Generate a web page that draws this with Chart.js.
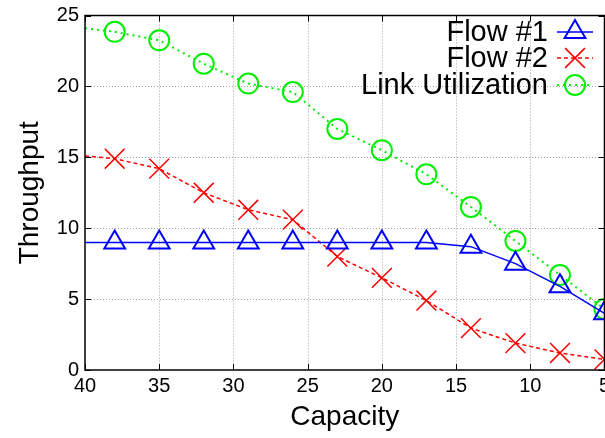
<!DOCTYPE html>
<html>
<head>
<meta charset="utf-8">
<script src="https://cdn.jsdelivr.net/npm/chart.js@4"></script>
<style>
  html, body { margin: 0; padding: 0; background: #fff; overflow: hidden; }
  #wrap { width: 620px; height: 438px; }
</style>
</head>
<body>
<div id="wrap"><canvas id="chart" width="620" height="438"></canvas></div>
<script>
// capacity values (x); first point (40) only carries the line, no marker
const capacity = [40, 38, 35, 32, 29, 26, 23, 20, 17, 14, 11, 8, 5];
const flow1 = [9.0, 9.0, 9.0, 9.0, 9.0, 9.0, 9.0, 9.0, 9.0, 8.7, 7.5, 5.9, 4.0];
const flow2 = [15.1, 14.9, 14.2, 12.5, 11.3, 10.6, 8.0, 6.5, 4.9, 2.95, 1.9, 1.2, 0.75];
const linkUtil = [24.1, 23.85, 23.25, 21.6, 20.2, 19.6, 17.0, 15.5, 13.8, 11.5, 9.1, 6.7, 4.3];

const xTicks = [40, 35, 30, 25, 20, 15, 10, 5];
const yTicks = [0, 5, 10, 15, 20, 25];

const FONT = '"Liberation Sans", Arial, Helvetica, sans-serif';

const toPoints = (vals) => capacity.map((c, i) => ({ x: c, y: vals[i] }));
const radius = (r) => (ctx) => (ctx.dataIndex === 0 ? 0 : r);

// gnuplot-like frame: dotted grid, box border, inward ticks on all sides
const framePlugin = {
  id: 'frame',
  beforeDatasetsDraw(chart) {
    const { ctx, chartArea: a, scales: { x, y } } = chart;
    ctx.save();
    ctx.strokeStyle = '#a0a0a0';
    ctx.lineWidth = 1;
    ctx.setLineDash([1, 2]);
    ctx.beginPath();
    xTicks.forEach(v => {
      const px = Math.round(x.getPixelForValue(v)) + 0.5;
      if (px > a.left + 2 && px < a.right - 2) { ctx.moveTo(px, a.top); ctx.lineTo(px, a.bottom); }
    });
    yTicks.forEach(v => {
      const py = Math.round(y.getPixelForValue(v)) + 0.5;
      if (py > a.top + 2 && py < a.bottom - 2) { ctx.moveTo(a.left, py); ctx.lineTo(a.right, py); }
    });
    ctx.stroke();
    ctx.restore();
  },
  afterDatasetsDraw(chart) {
    const { ctx, chartArea: a, scales: { x, y } } = chart;
    ctx.save();
    ctx.strokeStyle = '#000';
    ctx.lineWidth = 1.5;
    ctx.strokeRect(a.left, a.top, a.right - a.left, a.bottom - a.top);
    const tl = 6;
    ctx.beginPath();
    xTicks.forEach(v => {
      const px = Math.round(x.getPixelForValue(v)) + 0.5;
      ctx.moveTo(px, a.bottom); ctx.lineTo(px, a.bottom - tl);
      ctx.moveTo(px, a.top); ctx.lineTo(px, a.top + tl);
    });
    yTicks.forEach(v => {
      const py = Math.round(y.getPixelForValue(v)) + 0.5;
      ctx.moveTo(a.left, py); ctx.lineTo(a.left + tl, py);
      ctx.moveTo(a.right, py); ctx.lineTo(a.right - tl, py);
    });
    ctx.lineWidth = 1;
    ctx.stroke();
    ctx.restore();
  }
};

// key in the top right corner, text right aligned, sample line + marker on the right
const keyPlugin = {
  id: 'key',
  afterDraw(chart) {
    const { ctx } = chart;
    const textRight = 548, lineL = 557, lineR = 593, rowY = [32, 58, 85];
    ctx.save();
    ctx.font = '29px ' + FONT;
    ctx.textAlign = 'right';
    ctx.textBaseline = 'middle';
    chart.data.datasets.forEach((ds, i) => {
      const yy = rowY[i];
      ctx.fillStyle = '#000';
      ctx.fillText(ds.label, textRight, yy + 1);
      ctx.strokeStyle = ds.borderColor;
      ctx.lineWidth = ds.borderWidth;
      ctx.setLineDash(ds.borderDash || []);
      ctx.beginPath();
      ctx.moveTo(lineL, yy); ctx.lineTo(lineR, yy);
      ctx.stroke();
      ctx.setLineDash([]);
      ctx.strokeStyle = ds.pointBorderColor;
      ctx.fillStyle = 'rgba(0,0,0,0)';
      ctx.lineWidth = ds.pointBorderWidth;
      Chart.helpers.drawPoint(ctx, {
        pointStyle: ds.pointStyle,
        radius: ds.keyRadius,
        borderWidth: ds.pointBorderWidth,
        rotation: 0
      }, (lineL + lineR) / 2, yy);
    });
    ctx.restore();
  }
};

new Chart(document.getElementById('chart'), {
  type: 'line',
  data: {
    datasets: [
      {
        label: 'Flow #1',
        data: toPoints(flow1),
        borderColor: '#0000ff',
        borderWidth: 1.5,
        pointStyle: 'triangle',
        pointRadius: radius(12),
        keyRadius: 12,
        pointBorderWidth: 2,
        pointBorderColor: '#0000ff',
        pointBackgroundColor: 'rgba(0,0,0,0)'
      },
      {
        label: 'Flow #2',
        data: toPoints(flow2),
        borderColor: '#ff0000',
        borderWidth: 1.5,
        borderDash: [4, 3],
        pointStyle: 'crossRot',
        pointRadius: radius(14),
        keyRadius: 14,
        pointBorderWidth: 1.5,
        pointBorderColor: '#ff0000',
        pointBackgroundColor: 'rgba(0,0,0,0)'
      },
      {
        label: 'Link Utilization',
        data: toPoints(linkUtil),
        borderColor: '#00ee00',
        borderWidth: 2,
        borderDash: [2, 4],
        pointStyle: 'circle',
        pointRadius: radius(10),
        keyRadius: 10,
        pointBorderWidth: 2,
        pointBorderColor: '#00ee00',
        pointBackgroundColor: 'rgba(0,0,0,0)'
      }
    ]
  },
  options: {
    responsive: false,
    animation: false,
    layout: { padding: { top: 13, right: 10, left: 0, bottom: 0 } },
    plugins: {
      legend: { display: false },
      tooltip: { enabled: false }
    },
    scales: {
      x: {
        type: 'linear',
        reverse: true,
        min: 5,
        max: 40,
        afterBuildTicks: (s) => { s.ticks = xTicks.map(v => ({ value: v })); },
        afterFit: (s) => { s.height = 68; s.paddingLeft = 0; s.paddingRight = 0; },
        grid: { display: false, drawTicks: false },
        border: { display: false },
        ticks: { color: '#000', font: { family: FONT, size: 20 }, padding: 4, maxRotation: 0 },
        title: { display: true, text: 'Capacity', color: '#000', font: { family: FONT, size: 28 }, padding: { top: 0, bottom: 4 } }
      },
      y: {
        min: 0,
        max: 25,
        afterBuildTicks: (s) => { s.ticks = yTicks.map(v => ({ value: v })); },
        afterFit: (s) => { s.width = 85; s.paddingTop = 0; s.paddingBottom = 0; },
        grid: { display: false, drawTicks: false },
        border: { display: false },
        ticks: { color: '#000', font: { family: FONT, size: 20 }, padding: 6 },
        title: { display: true, text: 'Throughput', color: '#000', font: { family: FONT, size: 28 }, padding: { top: 13, bottom: 0 } }
      }
    }
  },
  plugins: [framePlugin, keyPlugin]
});
</script>
</body>
</html>
